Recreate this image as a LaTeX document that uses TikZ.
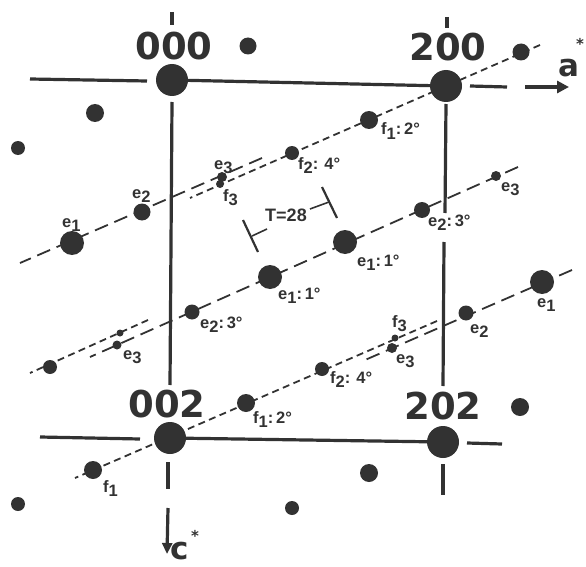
\documentclass[tikz,border=0pt]{standalone}
\usepackage{fontspec}
\setmainfont{DejaVu Sans}
\newfontfamily\lblfam{Liberation Sans}
\usetikzlibrary{arrows.meta}
\definecolor{ink}{RGB}{50,50,50}
\newcommand\sbs[1]{\raisebox{-4.5pt}{#1}}
\begin{document}
\begin{tikzpicture}[x=1pt,y=-1pt,
  spot/.style={circle,fill=ink,inner sep=0pt,minimum size=#1},
  axis/.style={draw=ink,line width=3.2pt},
  eline/.style={draw=ink,line width=1.8pt,dash pattern=on 14pt off 7pt},
  fline/.style={draw=ink,line width=1.8pt,dash pattern=on 7pt off 4.5pt},
  big/.style={font=\bfseries\fontsize{37}{37}\selectfont,text=ink,inner sep=0pt},
  axlbl/.style={font=\bfseries\fontsize{31}{31}\selectfont,text=ink,inner sep=0pt,anchor=base west},
  starlbl/.style={font=\bfseries\fontsize{15}{15}\selectfont,text=ink,inner sep=0pt,anchor=north},
  lbl/.style={font=\lblfam\bfseries\fontsize{16.5}{16.5}\selectfont,text=ink,inner sep=0pt,anchor=base west},
  bar/.style={draw=ink,line width=2.2pt},
  ]
\useasboundingbox (0,0) rectangle (586,567);

% ---- line end coordinates
\coordinate (fAr) at (540,45);  \coordinate (fAl) at (190,198);
\coordinate (eAr) at (262,158); \coordinate (eAl) at (20,263);
\coordinate (eMr) at (518,167); \coordinate (eMl) at (90,357);
\coordinate (fLr) at (148,320); \coordinate (fLl) at (30,373);
\coordinate (eBr) at (572,270); \coordinate (eBl) at (365,360);
\coordinate (fBr) at (437,321); \coordinate (fBl) at (75,478);

% axis coordinates
\coordinate (h0l) at (30,79);   \coordinate (h0r) at (147,81);
\coordinate (t0a) at (172,12);  \coordinate (t0b) at (172,25);
\coordinate (t2a) at (447,17);  \coordinate (t2b) at (447,28);
\coordinate (v0a) at (172,102); \coordinate (v0b) at (170,385);
\coordinate (v2a) at (446,104); \coordinate (v2b) at (445,213);
\coordinate (v2c) at (444,242); \coordinate (v2d) at (443,386);
\coordinate (h2l) at (40,437);  \coordinate (h2r) at (140,439);
\coordinate (t4a) at (168,462); \coordinate (t4b) at (168,489);
\coordinate (ca) at (168,508);  \coordinate (cb) at (167,554);
\coordinate (h3a) at (467,443); \coordinate (h3b) at (502,444);
\coordinate (t3a) at (443,464); \coordinate (t3b) at (443,495);
\coordinate (aa) at (470,86);   \coordinate (ab) at (507,87);
\coordinate (ac) at (525,87);   \coordinate (ad) at (569,87);

% T=28 marker
\coordinate (b1a) at (243,220); \coordinate (b1b) at (258,252);
\coordinate (b2a) at (322,187); \coordinate (b2b) at (337,218);
\coordinate (d1a) at (252,236); \coordinate (d1b) at (267,229);
\coordinate (d2a) at (310,209); \coordinate (d2b) at (329,202);

% ---- dashed lattice rows
\draw[fline] (fAr) -- (fAl);
\draw[eline] (eAr) -- (eAl);
\draw[eline] (eMr) -- (eMl);
\draw[fline] (fLr) -- (fLl);
\draw[eline] (eBr) -- (eBl);
\draw[fline] (fBr) -- (fBl);

% ---- main spots
\node[spot=32pt] (o000) at (172,80) {};
\node[spot=32pt] (o200) at (446,86) {};
\node[spot=32pt] (o002) at (170,438) {};
\node[spot=32pt] (o202) at (443,442) {};

% ---- axes
\draw[axis] (h0l) -- (h0r);
\draw[axis] (o000) -- (o200);
\draw[axis] (t0a) -- (t0b);
\draw[axis] (t2a) -- (t2b);
\draw[axis] (v0a) -- (v0b);
\draw[axis] (v2a) -- (v2b);
\draw[axis] (v2c) -- (v2d);
\draw[axis] (h2l) -- (h2r);
\draw[axis] (o002) -- (o202);
\draw[axis] (t4a) -- (t4b);
\draw[axis,-{Triangle[length=11pt,width=10pt]}] (ca) -- (cb);
\draw[axis] (h3a) -- (h3b);
\draw[axis] (t3a) -- (t3b);
\draw[axis] (aa) -- (ab);
\draw[axis,line width=3.6pt,-{Triangle[length=12pt,width=12pt]}] (ac) -- (ad);

% T=28
\draw[bar] (b1a) -- (b1b);
\draw[bar] (b2a) -- (b2b);
\draw[draw=ink,line width=1.6pt] (d1a) -- (d1b);
\draw[draw=ink,line width=1.6pt] (d2a) -- (d2b);
\node[lbl,anchor=center,font=\lblfam\bfseries\fontsize{18}{18}\selectfont] (T) at (286,215) {T=28};

% ---- spots on rows
\node[spot=17pt] (fA0) at (521,52) {};
\node[spot=18pt] (fA1) at (369,120) {};
\node[spot=14pt] (fA2) at (292,153) {};
\node[spot=8pt]  (fA3) at (220,184) {};
\node[spot=10pt] (eA3) at (222,177) {};
\node[spot=17pt] (eA2) at (142,212) {};
\node[spot=24pt] (eA1) at (72,243) {};

\node[spot=10pt] (eM3r) at (496,176) {};
\node[spot=16pt] (eM2r) at (422,210) {};
\node[spot=24pt] (eM1r) at (345,242) {};
\node[spot=24pt] (eM1l) at (270,277) {};
\node[spot=15pt] (eM2l) at (192,312) {};
\node[spot=9pt]  (eM3l) at (117,345) {};
\node[spot=14pt] (fL2) at (50,367) {};
\node[spot=7pt]  (fL3) at (120,333) {};

\node[spot=24pt] (eB1) at (542,282) {};
\node[spot=15pt] (eB2) at (466,313) {};
\node[spot=10pt] (eB3) at (392,348) {};
\node[spot=7pt]  (fB3) at (395,338) {};
\node[spot=14pt] (fB2) at (322,369) {};
\node[spot=18pt] (fB1) at (246,403) {};
\node[spot=18pt] (fB0) at (93,470) {};

% free spots
\node[spot=17pt] (s1) at (248,46) {};
\node[spot=18pt] (s2) at (95,113) {};
\node[spot=14pt] (s3) at (18,148) {};
\node[spot=18pt] (s4) at (520,407) {};
\node[spot=18pt] (s5) at (369,473) {};
\node[spot=14pt] (s6) at (292,508) {};
\node[spot=14pt] (s7) at (18,504) {};

% ---- big labels
\node[big] (L000) at (174,46) {000};
\node[big] (L200) at (448,47) {200};
\node[big] (L002) at (167,404) {002};
\node[big] (L202) at (443,406) {202};
\node[axlbl] (La) at (558,77) {a};
\node[starlbl] (Las) at (580,38) {*};
\node[axlbl] (Lc) at (170,559) {c};
\node[starlbl] (Lcs) at (195,530) {*};

% ---- small labels
\node[lbl] (lA1) at (62,227) {e\sbs{1}};
\node[lbl] (lA2) at (132,198) {e\sbs{2}};
\node[lbl] (lA3) at (214,169) {e\sbs{3}};
\node[lbl] (lfA3) at (223,201) {f\sbs{3}};
\node[lbl] (lfA1) at (381,135) {f\sbs{1}:\,2°};
\node[lbl] (lfA2) at (298,169) {f\sbs{2}: 4°};

\node[lbl] (lM3r) at (501,191) {e\sbs{3}};
\node[lbl] (lM2r) at (428,226) {e\sbs{2}:\,3°};
\node[lbl] (lM1r) at (357,266) {e\sbs{1}:\,1°};
\node[lbl] (lM1l) at (278,299) {e\sbs{1}:\,1°};
\node[lbl] (lM2l) at (200,328) {e\sbs{2}:\,3°};
\node[lbl] (lM3l) at (123,359) {e\sbs{3}};

\node[lbl] (lB1) at (537,307) {e\sbs{1}};
\node[lbl] (lB2) at (470,333) {e\sbs{2}};
\node[lbl] (lB3) at (396,363) {e\sbs{3}};
\node[lbl] (lfB3) at (392,327) {f\sbs{3}};
\node[lbl] (lfB2) at (330,383) {f\sbs{2}: 4°};
\node[lbl] (lfB1) at (253,423) {f\sbs{1}:\,2°};
\node[lbl] (lfB0) at (103,492) {f\sbs{1}};
\end{tikzpicture}
\end{document}
